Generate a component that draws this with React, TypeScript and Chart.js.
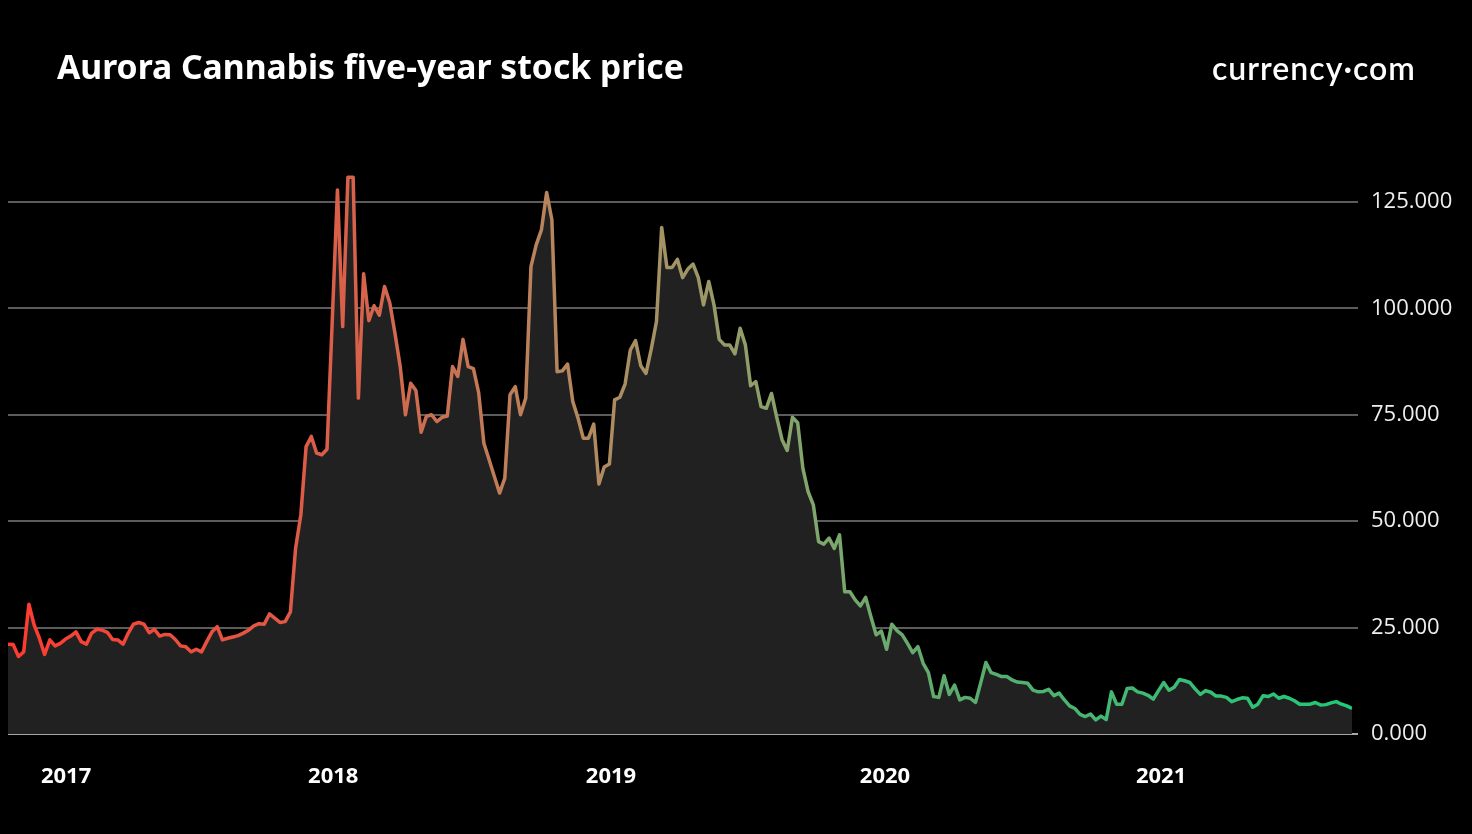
import React, { useEffect, useRef } from "react";
import { Chart, registerables } from "chart.js";

Chart.register(...registerables);

// Weekly closing prices, Oct 2016 → Sep 2021
const prices2017: number[] = [
  21.1, 21.0, 18.2, 19.3, 30.5, 25.6, 22.5, 18.7, 22.1, 20.7,
  21.3, 22.3, 23.0, 24.0, 21.7, 21.1, 23.7, 24.6, 24.4, 23.9,
  22.2, 22.1, 21.1, 23.7, 25.8, 26.2, 25.8, 23.8, 24.6, 23.0,
  23.4, 23.3, 22.2, 20.7, 20.5, 19.3, 19.9, 19.3, 21.7, 24.0,
  25.2, 22.1, 22.5, 22.8, 23.1, 23.7, 24.4, 25.4, 25.9, 25.8,
  28.2, 27.2, 26.2, 26.4, 28.7, 43.7, 51.5,
];
const prices2018: number[] = [
  67.5, 69.9, 66.0, 65.6, 66.9, 97.0, 127.8, 95.7, 130.8, 130.8,
  78.9, 108.1, 97.1, 100.6, 98.4, 105.1, 101.3, 94.1, 86.3, 75.0,
  82.4, 80.7, 70.9, 74.6, 75.0, 73.4, 74.4, 74.7, 86.3, 84.0,
  92.7, 86.3, 85.8, 80.2, 68.3, 64.4, 60.5, 56.6, 60.1, 79.7,
  81.6, 75.0, 78.9, 109.8, 114.9, 118.4, 127.2, 120.8, 85.1, 85.3,
  86.9,
];
const prices2019: number[] = [
  78.1, 74.2, 69.5, 69.5, 72.8, 58.7, 62.7, 63.4, 78.5, 79.1,
  82.2, 90.2, 92.4, 86.5, 84.7, 90.4, 96.9, 119.0, 109.6, 109.6,
  111.5, 107.2, 109.2, 110.4, 107.2, 100.8, 106.3, 100.8, 92.7, 91.4,
  91.4, 89.3, 95.3, 91.4, 81.8, 82.8, 76.9, 76.5, 80.0, 74.4,
  69.2, 66.6, 74.4, 73.1, 62.4, 56.9, 53.8, 45.2, 44.6, 46.0,
  43.6, 46.8,
];
const prices2020: number[] = [
  33.4, 33.4, 31.5, 30.1, 32.1, 27.6, 23.3, 24.2, 19.9, 25.8,
  24.3, 23.3, 21.3, 19.1, 20.5, 16.6, 14.4, 8.8, 8.6, 13.7,
  9.3, 11.5, 8.0, 8.6, 8.4, 7.4, 12.0, 16.8, 14.4, 14.0,
  13.5, 13.5, 12.7, 12.2, 12.1, 11.9, 10.3, 9.9, 10.0, 10.5,
  9.0, 9.6, 8.0, 6.6, 6.0, 4.6, 4.1, 4.7, 3.3, 4.2,
  3.4, 9.9, 7.0, 7.0, 10.7, 10.8, 9.9, 9.6, 9.1, 8.2,
  10.2, 12.1, 10.3, 11.0, 12.8, 12.5, 12.1, 10.6, 9.3, 10.2,
  9.8, 8.9, 8.9, 8.6, 7.6, 8.1, 8.5, 8.4, 6.3, 7.0,
  9.0, 8.8, 9.4, 8.4, 8.8, 8.4, 7.8, 7.0, 7.0, 7.0,
  7.4, 6.8, 6.9, 7.3, 7.6, 7.0, 6.6, 6.0,
];
const prices: number[] = [...prices2017, ...prices2018, ...prices2019, ...prices2020];

// Year labels and the week index at which they sit
const yearLabels: string[] = ["2017", "2018", "2019", "2020", "2021"];
const yearTickWeeks: number[] = [11.1, 62.2, 115.3, 167.7, 220.5];

// Price axis ticks
const priceTicks: number[] = [0, 25, 50, 75, 100, 125];

const TITLE = "Aurora Cannabis five-year stock price";
const BRAND = "currency·com";

export default function App() {
  const canvasRef = useRef<HTMLCanvasElement | null>(null);

  useEffect(() => {
    document.body.style.margin = "0";
    document.body.style.background = "#000";
    const canvas = canvasRef.current;
    if (!canvas) return;

    const lineGradient = (ctx: any) => {
      const chart = ctx.chart;
      const area = chart.chartArea;
      if (!area) return "#ff3b30";
      const g = chart.ctx.createLinearGradient(area.left, 0, area.right, 0);
      g.addColorStop(0, "#ff3b30");
      g.addColorStop(0.25, "#d9604a");
      g.addColorStop(0.4, "#b9845c");
      g.addColorStop(0.5, "#a19466");
      g.addColorStop(0.6, "#80a66c");
      g.addColorStop(0.7, "#5dab6e");
      g.addColorStop(1, "#1fca78");
      return g;
    };

    const chart = new Chart(canvas, {
      type: "line",
      data: {
        datasets: [
          {
            data: prices.map((v, i) => ({ x: i, y: v })),
            borderColor: lineGradient,
            backgroundColor: "#212121",
            borderWidth: 3.5,
            pointRadius: 0,
            tension: 0,
            fill: "origin",
            borderJoinStyle: "round",
          },
        ],
      },
      options: {
        responsive: false,
        animation: false,
        devicePixelRatio: 1,
        layout: { padding: { left: 8, top: 138, right: 0, bottom: 0 } },
        plugins: { legend: { display: false }, tooltip: { enabled: false }, title: { display: false } },
        scales: {
          x: {
            type: "linear",
            min: 0,
            max: prices.length - 1,
            grid: { display: false },
            border: { display: false },
            afterBuildTicks: (scale: any) => {
              scale.ticks = yearTickWeeks.map((v) => ({ value: v }));
            },
            afterFit: (scale: any) => {
              scale.height = 100;
            },
            ticks: {
              autoSkip: false,
              maxRotation: 0,
              padding: 22,
              color: "#ffffff",
              font: { family: "'Open Sans'", size: 22, weight: "bold" },
              callback: (v: any) => {
                const i = yearTickWeeks.indexOf(Number(v));
                return i >= 0 ? yearLabels[i] : "";
              },
            },
          },
          y: {
            position: "right",
            min: 0,
            max: 140,
            afterBuildTicks: (scale: any) => {
              scale.ticks = priceTicks.map((v) => ({ value: v }));
            },
            afterFit: (scale: any) => {
              scale.width = 120;
            },
            border: { display: false },
            grid: {
              color: (c: any) => (c.tick && c.tick.value === 0 ? "#a6a6a6" : "#5c5c5c"),
              lineWidth: 2,
              drawTicks: true,
              tickLength: 6,
            },
            ticks: {
              padding: 13,
              color: "#eeeeee",
              font: { family: "'Open Sans'", size: 22 },
              callback: (v: any) => Number(v).toFixed(3),
            },
          },
        },
      },
    });
    return () => chart.destroy();
  }, []);

  return (
    <div style={{ position: "fixed", left: 0, top: 0, width: 1472, height: 834, background: "#000", overflow: "hidden" }}>
      <canvas ref={canvasRef} width={1472} height={834} style={{ position: "absolute", left: 0, top: 0, width: 1472, height: 834 }} />
      <div
        style={{
          position: "absolute",
          left: 57,
          top: 45,
          color: "#fff",
          fontFamily: "'Noto Sans', 'Open Sans', sans-serif",
          fontWeight: 700,
          fontSize: 33.7,
          lineHeight: "42px",
          whiteSpace: "nowrap",
        }}
      >
        {TITLE}
      </div>
      <div
        style={{
          position: "absolute",
          left: 1212,
          top: 48,
          color: "#fff",
          fontFamily: "Lato, sans-serif",
          fontWeight: 600,
          fontSize: 32,
          letterSpacing: 1,
          lineHeight: "40px",
          whiteSpace: "nowrap",
        }}
      >
        {BRAND}
      </div>
    </div>
  );
}
